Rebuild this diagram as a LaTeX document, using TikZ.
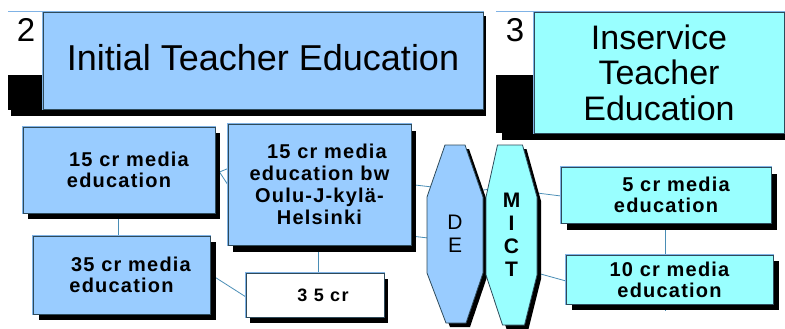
\documentclass[tikz,border=0pt]{standalone}
\usepackage{fontspec}
\setmainfont{Liberation Sans}
\usetikzlibrary{shadows,calc}

\definecolor{paleblue}{HTML}{99CCFF}
\definecolor{palecyan}{HTML}{99FFFF}
\definecolor{edgedark}{HTML}{2E4A5A}
\definecolor{edgelight}{HTML}{7FB2E5}
\definecolor{wire}{HTML}{4A8DB5}

\pgfdeclarelayer{wires}
\pgfdeclarelayer{prisms}
\pgfsetlayers{wires,prisms,main}

\newcommand\cardtext{\fontsize{20}{21}\selectfont\bfseries\addfontfeature{LetterSpace=6}}
% first lines of the course boxes start with an indent
\newcommand\lead[1]{\hspace*{#1pt}}

\tikzset{
  castshadow/.style 2 args={drop shadow={shadow xshift=#1pt, shadow yshift=-#2pt,
      fill=black, opacity=1}},
  card/.style={draw=edgedark, line width=0.9pt, inner sep=0pt, outer sep=0pt,
    preaction={draw=edgelight, line width=2.6pt}, align=center, font=\cardtext},
  prism/.style={draw=edgedark, line width=0.8pt},
  frame/.style={inner sep=0pt, outer sep=0pt, align=center},
  link/.style={draw=wire, line width=0.8pt},
  tabnum/.style={font=\fontsize{33}{33}\selectfont, inner sep=0pt},
}

\begin{document}
\begin{tikzpicture}[x=1pt, y=-1pt]
\useasboundingbox (0,0) rectangle (785,329);

% ---- title bar 2
\fill[black] (11,16) rectangle (486,116);
\fill[black] (8,75) rectangle (43,110);
\fill[white] (8,12) rectangle (43,75);
\draw[edgelight, line width=1pt] (8,12) -- (43,12);
\node[card, fill=paleblue, minimum width=440pt, minimum height=97pt,
      font=\fontsize{36}{36}\selectfont, text depth=7pt] (t2) at (263,60.5)
      {Initial Teacher Education};
\node[tabnum] (n2) at (26,30) {2};

% ---- title bar 3
\fill[black] (502,16) rectangle (785,140);
\fill[black] (496,75) rectangle (534,133);
\fill[white] (496,12) rectangle (534,75);
\draw[edgelight, line width=1pt] (496,12) -- (534,12);
\node[card, fill=palecyan, minimum width=250pt, minimum height=121pt,
      font=\fontsize{34}{35.5}\selectfont] (t3) at (659,72.5)
      {Inservice\\Teacher\\Education};
\node[tabnum] (n3) at (515,30) {3};

% ---- course boxes
\node[castshadow={5}{6}, card, fill=paleblue, minimum width=192pt, minimum height=86pt]
      (tl) at (119,170) {\lead{20}15 cr media\\education};
\node[castshadow={6}{6}, card, fill=paleblue, minimum width=177pt, minimum height=78pt]
      (ml) at (121.5,275) {\lead{19}35 cr media\\education};
\node[castshadow={5}{7}, card, fill=paleblue, minimum width=183pt, minimum height=121pt,
      font=\cardtext\fontsize{20}{22}\selectfont]
      (bw) at (319.5,184.5) {\lead{15}15 cr media\\education bw\\Oulu-J-kylä-\\Helsinki};
\node[castshadow={4}{6}, card, fill=white, minimum width=138pt, minimum height=44pt,
      font=\fontsize{18}{18}\selectfont\bfseries\addfontfeature{LetterSpace=8}]
      (sm) at (315,295) {\lead{16}3 5 cr};
\node[castshadow={6}{7}, card, fill=palecyan, minimum width=210pt, minimum height=56pt]
      (r1) at (666,195) {\lead{20}5 cr media\\education};
\node[castshadow={6}{6}, card, fill=palecyan, minimum width=207pt, minimum height=49pt]
      (r2) at (669.5,279.5) {10 cr media\\education};

% ---- the two tall octagons
\node[frame, minimum width=56pt, minimum height=178pt,
      font=\fontsize{21}{23}\selectfont] (de) at (455,234) {D\\E};
\node[frame, minimum width=51pt, minimum height=180pt,
      font=\fontsize{21}{23}\selectfont\bfseries] (mict) at (511.5,235) {M\\I\\C\\T};

\begin{pgfonlayer}{prisms}
\path[castshadow={4}{4}, prism, fill=paleblue]
  ($(de.north)+(-10,0)$) -- ($(de.north)+(10,0)$) -- ($(de.north east)+(0,52)$)
  -- ($(de.south east)+(0,-50)$) -- ($(de.south)+(11,0)$) -- ($(de.south)+(-9,0)$)
  -- ($(de.south west)+(0,-50)$) -- ($(de.north west)+(0,52)$) -- cycle;
\path[castshadow={4}{4}, prism, fill=palecyan]
  ($(mict.north)+(-14,0)$) -- ($(mict.north)+(11,0)$) -- ($(mict.north east)+(0,52)$)
  -- ($(mict.south east)+(0,-50)$) -- ($(mict.south)+(13,0)$) -- ($(mict.south)+(-9,0)$)
  -- ($(mict.south west)+(0,-50)$) -- ($(mict.north west)+(0,52)$) -- cycle;
\end{pgfonlayer}

% ---- connectors
\coordinate (hub) at (219.5,172);
\begin{pgfonlayer}{wires}
\draw[link] ([xshift=-1pt]tl.south) -- ([xshift=-1pt]tl.south |- ml.north);
\draw[link] (hub) -- ([yshift=16pt]bw.west);
\draw[link] (hub) -- ([yshift=-0.5pt]bw.west);
\draw[link] ([xshift=-1.5pt]bw.south) -- ([xshift=-1.5pt]bw.south |- sm.north);
\draw[link] ([yshift=1pt]ml.east) -- ([yshift=-2pt]sm.west);
\draw[link] (bw.east) -- ([xshift=5pt,yshift=47pt]de.west);
\draw[link] ([yshift=-51.5pt]bw.east) -- ([xshift=1pt,yshift=-4pt]de.west);
\draw[link] ([xshift=20pt,yshift=43pt]de.center) -- ([xshift=-20pt,yshift=46pt]mict.center);
\draw[link] ([yshift=42pt]mict.east) -- ([yshift=-1pt]r1.west);
\draw[link] ([yshift=-38pt]mict.east) -- ([yshift=-1.5pt]r2.west);
\draw[link] ([xshift=-1pt]r1.south) -- ([xshift=-1pt]r1.south |- r2.north);
\draw[link] ([xshift=-4.5pt]r2.south) -- ++(0,7);
\end{pgfonlayer}
\end{tikzpicture}
\end{document}
